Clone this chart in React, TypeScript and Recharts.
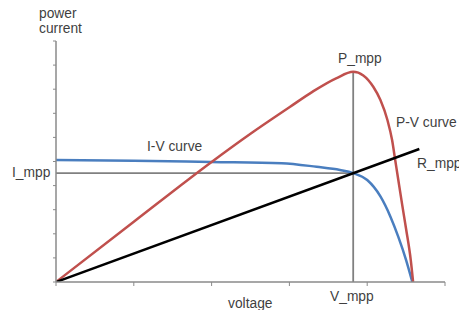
import { ComposedChart, Line, XAxis, YAxis, ReferenceLine } from "recharts";

// axis units: voltage 0..5, power/current 0..10
const ivVoltage = [0, 1, 2, 2.9, 3.35, 3.65, 3.82, 4.0, 4.17, 4.3, 4.4, 4.5, 4.58];
const ivCurrent = [5.06, 5.03, 4.98, 4.93, 4.78, 4.65, 4.52, 4.23, 3.55, 2.7, 1.87, 0.91, 0];

const pvVoltage = [0, 1, 2, 2.5, 3, 3.3, 3.6, 3.82, 3.95, 4.08, 4.17, 4.26, 4.32, 4.36, 4.4, 4.45, 4.5, 4.56, 4.59];
const pvPower = [0, 2.5, 4.98, 6.15, 7.25, 7.9, 8.45, 8.72, 8.57, 8.09, 7.55, 6.72, 5.89, 5.06, 4.23, 3.2, 2.2, 0.91, 0];

const rVoltage = [0, 4.67];
const rCurrent = [0, 5.52];

const vMpp = 3.82;
const iMpp = 4.52;
const pMpp = 8.72;

const xTicks = [0, 1, 2, 3, 4, 5];
const yTicks = [0, 1, 2, 3, 4, 5, 6, 7, 8, 9, 10];

const toRows = (xs: number[], ys: number[]) => xs.map((v, i) => ({ v, y: ys[i] }));

const ivData = toRows(ivVoltage, ivCurrent);
const pvData = toRows(pvVoltage, pvPower);
const rData = toRows(rVoltage, rCurrent);

const labels = [
  { text: "power", x: 39, y: 18 },
  { text: "current", x: 39, y: 33 },
  { text: "I_mpp", x: 12, y: 177 },
  { text: "I-V curve", x: 147, y: 151 },
  { text: "P_mpp", x: 338, y: 63 },
  { text: "P-V curve", x: 396, y: 127 },
  { text: "R_mpp", x: 417, y: 168 },
  { text: "voltage", x: 228, y: 308 },
  { text: "V_mpp", x: 330, y: 301 },
];

const axisGray = "#8a8a8a";

export default function App() {
  return (
    <div style={{ position: "absolute", left: 0, top: 0, width: 459, height: 310, background: "#fff" }}>
      <ComposedChart
        width={459}
        height={310}
        margin={{ top: 41, right: 14, left: 50, bottom: 22 }}
      >
        <XAxis
          type="number"
          dataKey="v"
          domain={[0, 5]}
          ticks={xTicks}
          allowDataOverflow
          height={6}
          tick={() => <g />}
          tickSize={4}
          axisLine={{ stroke: axisGray, strokeWidth: 1.5 }}
          tickLine={{ stroke: axisGray, strokeWidth: 1 }}
        />
        <YAxis
          type="number"
          dataKey="y"
          domain={[0, 10]}
          ticks={yTicks}
          allowDataOverflow
          width={6}
          tick={() => <g />}
          tickSize={3}
          axisLine={{ stroke: axisGray, strokeWidth: 1.5 }}
          tickLine={{ stroke: axisGray, strokeWidth: 1 }}
        />
        <ReferenceLine
          segment={[{ x: 0, y: iMpp }, { x: vMpp, y: iMpp }]}
          stroke="#808080"
          strokeWidth={1.8}
        />
        <ReferenceLine
          segment={[{ x: vMpp, y: 0 }, { x: vMpp, y: pMpp }]}
          stroke="#808080"
          strokeWidth={1.8}
        />
        <Line
          data={ivData}
          dataKey="y"
          type="monotone"
          stroke="#4a7ebf"
          strokeWidth={2.5}
          dot={false}
          activeDot={false}
          isAnimationActive={false}
        />
        <Line
          data={pvData}
          dataKey="y"
          type="monotone"
          stroke="#c0504d"
          strokeWidth={2.5}
          dot={false}
          activeDot={false}
          isAnimationActive={false}
        />
        <Line
          data={rData}
          dataKey="y"
          type="linear"
          stroke="#000"
          strokeWidth={2.5}
          dot={false}
          activeDot={false}
          isAnimationActive={false}
        />
      </ComposedChart>
      <svg
        width={459}
        height={310}
        style={{ position: "absolute", left: 0, top: 0, pointerEvents: "none" }}
      >
        {labels.map((l) => (
          <text
            key={l.text}
            x={l.x}
            y={l.y}
            fill="#3f3f3f"
            fontSize={13.8}
            fontFamily="'Liberation Sans', Arial, sans-serif"
          >
            {l.text}
          </text>
        ))}
      </svg>
    </div>
  );
}
